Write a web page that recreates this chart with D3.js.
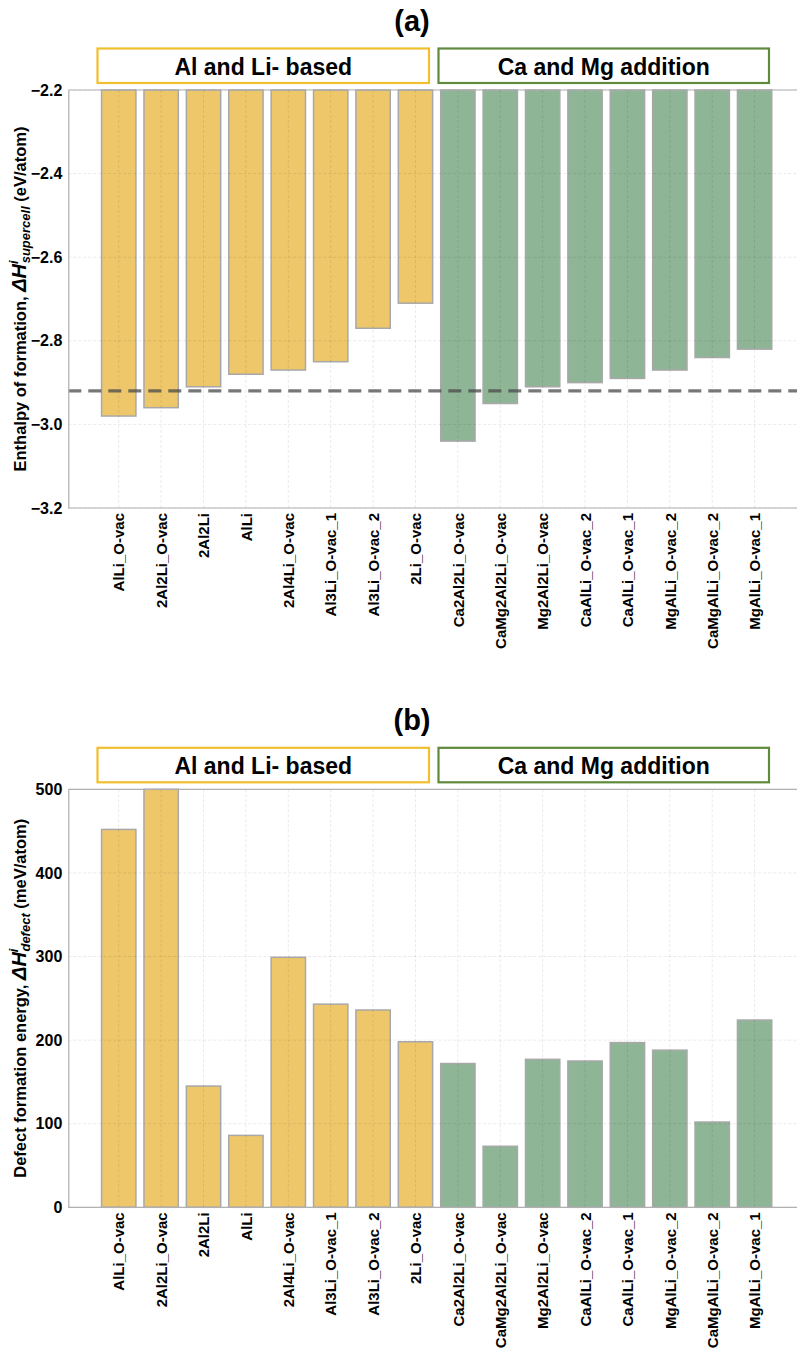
<!DOCTYPE html>
<html>
<head>
<meta charset="utf-8">
<script src="https://cdn.jsdelivr.net/npm/d3@7"></script>
<style>
  body { margin: 0; background: #fff; }
  svg text { font-family: "Liberation Sans", Arial, sans-serif; font-weight: bold; fill: #000; }
</style>
</head>
<body>
<script>
// chart data
const categories = ["AlLi_O-vac", "2Al2Li_O-vac", "2Al2Li", "AlLi", "2Al4Li_O-vac", "Al3Li_O-vac_1",
  "Al3Li_O-vac_2", "2Li_O-vac", "Ca2Al2Li_O-vac", "CaMg2Al2Li_O-vac", "Mg2Al2Li_O-vac",
  "CaAlLi_O-vac_2", "CaAlLi_O-vac_1", "MgAlLi_O-vac_2", "CaMgAlLi_O-vac_2", "MgAlLi_O-vac_1"];
const groups = ["Al and Li- based", "Al and Li- based", "Al and Li- based", "Al and Li- based",
  "Al and Li- based", "Al and Li- based", "Al and Li- based", "Al and Li- based",
  "Ca and Mg addition", "Ca and Mg addition", "Ca and Mg addition", "Ca and Mg addition",
  "Ca and Mg addition", "Ca and Mg addition", "Ca and Mg addition", "Ca and Mg addition"];
const groupNames = ["Al and Li- based", "Ca and Mg addition"];
const enthalpy = [-2.98, -2.96, -2.91, -2.88, -2.87, -2.85, -2.77, -2.71,
  -3.04, -2.95, -2.91, -2.90, -2.89, -2.87, -2.84, -2.82];
const enthalpyRef = -2.92;
const defectEnergy = [452, 500, 145, 86, 299, 243, 236, 198,
  172, 73, 177, 175, 197, 188, 102, 224];
const ticksA = [-2.2, -2.4, -2.6, -2.8, -3.0, -3.2];
const ticksB = [0, 100, 200, 300, 400, 500];

const W = 797, H = 1351;
const fillColor = d3.scaleOrdinal().domain(groupNames).range(["#efc76b", "#8fb597"]);
const boxColor = d3.scaleOrdinal().domain(groupNames).range(["#f0be2e", "#5f8a3c"]);

const svg = d3.select("body").append("svg").attr("width", W).attr("height", H);

const x = d3.scaleLinear().domain([-1.19, 16]).range([68.3, 797]);
const bw = x(0.405) - x(-0.405);

function panel(offset, title, values, ticks, domain, fmt, base, yLabel, ref) {
  const g = svg.append("g").attr("transform", `translate(0,${offset})`);
  const top = 90, bottom = 508;
  const y = d3.scaleLinear().domain(domain).range([bottom, top]);

  g.append("text").attr("x", 412).attr("y", 31).attr("text-anchor", "middle")
    .style("font-size", "29px").text(title);

  // group boxes
  const boxes = [[97.5, 429], [438.5, 769]];
  groupNames.forEach((name, i) => {
    g.append("rect").attr("x", boxes[i][0]).attr("y", 48.5)
      .attr("width", boxes[i][1] - boxes[i][0]).attr("height", 34.5)
      .attr("fill", "#fff").attr("stroke", boxColor(name)).attr("stroke-width", 2.2);
    g.append("text").attr("x", (boxes[i][0] + boxes[i][1]) / 2).attr("y", 74.5)
      .attr("text-anchor", "middle").style("font-size", "23px").text(name);
  });

  // bars
  g.selectAll("rect.bar").data(values).enter().append("rect").attr("class", "bar")
    .attr("x", (d, i) => x(i) - bw / 2)
    .attr("y", d => Math.min(y(base), y(d)))
    .attr("width", bw)
    .attr("height", d => Math.abs(y(d) - y(base)))
    .attr("fill", (d, i) => fillColor(groups[i]))
    .attr("stroke", "#a8a8a8").attr("stroke-width", 1.5);

  // grid over bars (faint)
  g.selectAll("line.hgrid").data(ticks).enter().append("line")
    .attr("x1", x.range()[0]).attr("x2", W).attr("y1", d => y(d)).attr("y2", d => y(d))
    .attr("stroke", "#000").attr("stroke-opacity", 0.11).attr("stroke-width", 0.8)
    .attr("stroke-dasharray", "3,2");
  g.selectAll("line.vgrid").data(categories).enter().append("line")
    .attr("x1", (d, i) => x(i)).attr("x2", (d, i) => x(i)).attr("y1", top).attr("y2", bottom)
    .attr("stroke", "#000").attr("stroke-opacity", 0.11).attr("stroke-width", 0.8)
    .attr("stroke-dasharray", "3,2");

  if (ref !== null) {
    g.append("line").attr("x1", x.range()[0]).attr("x2", W).attr("y1", y(ref)).attr("y2", y(ref))
      .attr("stroke", "#4a4a4a").attr("stroke-opacity", 0.75).attr("stroke-width", 3.2)
      .attr("stroke-dasharray", "13,7");
  }

  // spines
  g.append("line").attr("x1", x.range()[0]).attr("x2", W).attr("y1", top).attr("y2", top)
    .attr("stroke", "#b0b0b0").attr("stroke-width", 1.2);
  g.append("line").attr("x1", x.range()[0]).attr("x2", W).attr("y1", bottom).attr("y2", bottom)
    .attr("stroke", "#b0b0b0").attr("stroke-width", 1.2);

  // y axis
  const ya = g.append("g").attr("transform", `translate(${x.range()[0]},0)`)
    .call(d3.axisLeft(y).tickValues(ticks).tickSize(0).tickPadding(6).tickFormat(fmt));
  ya.select(".domain").attr("stroke", "#b0b0b0").attr("stroke-width", 1.2);
  ya.selectAll("text").style("font-size", "16px")
    .style("font-family", "'Liberation Sans', Arial, sans-serif").style("font-weight", "bold");

  // x axis
  const xa = g.append("g").attr("transform", `translate(0,${bottom})`)
    .call(d3.axisBottom(x).tickValues(d3.range(categories.length)).tickSize(0)
      .tickFormat(i => categories[i]));
  xa.select(".domain").remove();
  xa.selectAll("text").attr("transform", "rotate(-90)").attr("text-anchor", "end")
    .attr("x", -5).attr("y", 0).attr("dy", "0.35em")
    .style("font-size", "15px").style("font-family", "'Liberation Sans', Arial, sans-serif")
    .style("font-weight", "bold");

  // y label
  const lab = g.append("text").attr("transform", `translate(26,${(top + bottom) / 2}) rotate(-90)`)
    .attr("text-anchor", "middle").style("font-size", "16.5px");
  lab.append("tspan").text(yLabel[0]);
  lab.append("tspan").style("font-style", "italic").style("font-size", "20px").text("ΔH");
  lab.append("tspan").style("font-style", "italic").style("font-size", "13px").attr("dy", -8).text("i");
  lab.append("tspan").style("font-style", "italic").style("font-size", "13px").attr("dx", -3).attr("dy", 12).text(yLabel[1]);
  lab.append("tspan").attr("dy", -4).text(yLabel[2]);
}

panel(0, "(a)", enthalpy, ticksA, [-3.2, -2.2], d3.format(".1f"), -2.2,
  ["Enthalpy of formation, ", "supercell", " (eV/atom)"], enthalpyRef);
panel(699.3, "(b)", defectEnergy, ticksB, [0, 500], d3.format("d"), 0,
  ["Defect formation energy, ", "defect", " (meV/atom)"], null);
</script>
</body>
</html>
